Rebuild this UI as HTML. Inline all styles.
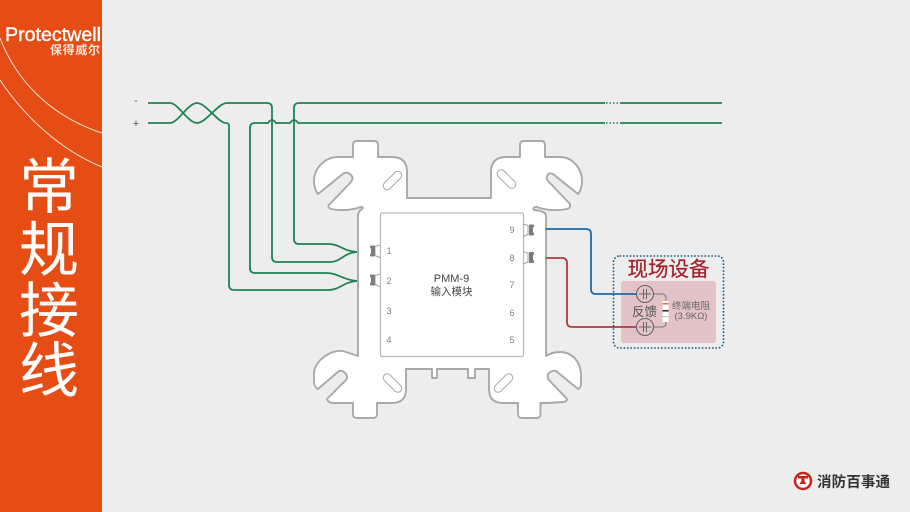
<!DOCTYPE html>
<html><head><meta charset="utf-8"><style>
html,body{margin:0;padding:0;background:#ededee}
svg{display:block}
text{font-family:"Liberation Sans","Noto Sans CJK SC",sans-serif}
</style></head><body>
<svg width="910" height="512" viewBox="0 0 910 512" xmlns="http://www.w3.org/2000/svg">
<rect width="910" height="512" fill="#ededee"/>
<rect width="102" height="512" fill="#e54d14"/>
<g fill="none" stroke="#f6e3d8" stroke-width="1">
<path d="M0 38C16 80 50 116 102 133"/>
<path d="M0 80C24 116 60 150 102 167"/>
</g>
<text x="5" y="41" font-size="19" fill="#fff" stroke="#fff" stroke-width=".4" textLength="96" lengthAdjust="spacingAndGlyphs">Protectwell</text>
<text x="50" y="54" font-size="12" font-weight="bold" fill="#f8e6dc" textLength="50">保得威尔</text>
<g font-size="60" fill="#fff" text-anchor="middle">
<text x="49" y="208">常</text>
<text x="49" y="271">规</text>
<text x="49" y="332">接</text>
<text x="49" y="392">线</text>
</g>

<!-- mounting plate -->
<path d="M353 157V145Q353 141 357 141H374Q378 141 378 145V157H392Q407 157 407 172V198H491V172Q491 157 506 157H520V145Q520 141 524 141H541Q545 141 545 145V157H560C572 157 582 168 582 181Q582 189 578 194L553 174Q549 172 547 176Q546 179 549 182L570 204Q571 208 567 209Q550 212 537 207Q532 207 534 210Q546 211 546 216V356Q552 352 560 352C572 352 581 362 581 375V383Q581 388 578 389L556 371Q551 370 548 374Q547 378 549 380L567 399Q567 402 562 402Q552 403 540.500 403V414Q540.500 418 536.500 418H522Q518 418 518 414V403H503Q489 403 489 389V369H475V378H468V369H437V378H432V369H406V389Q406 403 392 403H377V414Q377 418 373 418H357Q353 418 353 414V403H334Q328 403 327 399L346 380Q348 377 346 374Q343 370 339 371L318 389Q315 388 314 383V373C314 362 330 349 343 351L358 356V216Q358 211 362 209Q364 207 361 207Q346 212 331 209Q327 207 329 205L351 182Q354 178 351 175Q348 172 344 173L318 194Q314 189 314 181C314 168 325 157 338 157Z" fill="#fff" stroke="#a9a9a9" stroke-width="1.900" stroke-linejoin="round"/>
<rect x="380.500" y="213" width="143" height="143.500" rx="1.500" fill="#fff" stroke="#b9b9b9" stroke-width="1.200"/>
<g fill="#fff" stroke="#a9a9a9" stroke-width="1">
<rect x="381" y="176.500" width="23" height="8" rx="4" transform="rotate(-45 392.500 180.500)"/>
<rect x="495" y="175" width="23" height="8" rx="4" transform="rotate(45 506.500 179)"/>
<rect x="381" y="379" width="23" height="8" rx="4" transform="rotate(45 392.500 383)"/>
<rect x="492" y="379" width="23" height="8" rx="4" transform="rotate(-45 503.500 383)"/>
</g>
<!-- terminals -->
<g fill="none" stroke="#a0a0a0" stroke-width="1">
<path d="M380 245L375 246.500V255.500L380 257.500"/>
<path d="M380 274L375 275.500V284.500L380 286.500"/>
<path d="M523 224L528 225.500V234.500L523 236.500"/>
<path d="M523 251.500L528 253V262L523 264"/>
</g>
<g fill="#7c7c7c">
<rect x="370" y="245.500" width="5" height="3" rx="1"/><rect x="371" y="248" width="4" height="6"/><rect x="370" y="253.500" width="5" height="3" rx="1"/>
<rect x="370" y="274.500" width="5" height="3" rx="1"/><rect x="371" y="277" width="4" height="6"/><rect x="370" y="282.500" width="5" height="3" rx="1"/>
<rect x="529" y="224.500" width="5" height="3" rx="1"/><rect x="529" y="227" width="4" height="6"/><rect x="529" y="232.500" width="5" height="3" rx="1"/>
<rect x="529" y="252" width="5" height="3" rx="1"/><rect x="529" y="254.500" width="4" height="6"/><rect x="529" y="260" width="5" height="3" rx="1"/>
</g>
<g font-size="9" fill="#808080" text-anchor="middle">
<text x="389" y="254">1</text><text x="389" y="284">2</text><text x="389" y="314">3</text><text x="389" y="343">4</text>
<text x="512" y="233">9</text><text x="512" y="261">8</text><text x="512" y="288">7</text><text x="512" y="316">6</text><text x="512" y="343">5</text>
</g>
<text x="451.500" y="282" font-size="11" fill="#444" text-anchor="middle">PMM-9</text>
<text x="451.500" y="295" font-size="10.500" fill="#444" text-anchor="middle">输入模块</text>

<!-- green wires -->
<g fill="none" stroke="#1f8355" stroke-width="1.800">
<path d="M148 103H170C178 103 188 123 197 123S218 103 227 103H267Q272 103 272 108V257Q272 262 277 262H330C341 262 343 253 357 252"/>
<path d="M148 123H170C178 123 188 103 197 103S218 123 226 123Q229 123 229 126V285Q229 290 234 290H328C340 290 343 282 357 281"/>
<path d="M294 108Q294 103 299 103H605M620 103H722"/>
<path d="M294 108V239Q294 244 299 244H328C340 244 343 251 357 252"/>
<path d="M250 270V128Q250 123 255 123H268Q272 117 276 123H290Q294 117 298 123H605M620 123H722"/>
<path d="M250 268Q250 273 255 273H326C338 273 343 280 357 281"/>
<path d="M606 103H620M606 123H620" stroke-dasharray="1.500 2" stroke-width="1.500"/>
</g>
<text x="136" y="104" font-size="11" fill="#555" text-anchor="middle">-</text>
<text x="136" y="127" font-size="11" fill="#555" text-anchor="middle">+</text>

<!-- field device -->
<rect x="613.500" y="256" width="110" height="92" rx="6" fill="none" stroke="#1d5a86" stroke-width="1.600" stroke-dasharray="1.600 1.800"/>
<rect x="621" y="281" width="95" height="62" rx="3" fill="#e3c3c8"/>
<text x="668.500" y="276" font-size="20.500" fill="#a5232b" stroke="#a5232b" stroke-width=".25" text-anchor="middle">现场设备</text>
<path d="M546 229H586Q591 229 591 234V289Q591 294 596 294H636" fill="none" stroke="#1f6aa5" stroke-width="1.800"/>
<path d="M546 258H562Q567 258 567 263V322Q567 327 572 327H636" fill="none" stroke="#b03a40" stroke-width="1.800"/>
<path d="M653 294H662Q666 294 666 298V323Q666 327 662 327H653" fill="none" stroke="#777" stroke-width="1"/>
<g fill="#e3c3c8" stroke="#666" stroke-width="1.100">
<circle cx="645" cy="294" r="8.500"/><circle cx="645" cy="327" r="8.500"/>
</g>
<g fill="none" stroke="#666" stroke-width="1">
<path d="M639 294H651M643.500 289V299M646.500 289V299"/>
<path d="M639 327H651M643.500 322V332M646.500 322V332"/>
</g>
<rect x="662.500" y="301" width="6" height="21" fill="#fff"/>
<rect x="662.500" y="303" width="6" height="1.500" fill="#e8732a"/>
<rect x="662.500" y="310" width="6" height="1.500" fill="#222"/>
<rect x="662.500" y="316" width="6" height="1" fill="#bbb"/>
<text x="644.500" y="316" font-size="12.500" fill="#555" text-anchor="middle">反馈</text>
<text x="691" y="309" font-size="9.500" fill="#666" text-anchor="middle">终端电阻</text>
<text x="691" y="319" font-size="9.500" fill="#666" text-anchor="middle">(3.9KΩ)</text>

<!-- bottom logo -->
<circle cx="803" cy="481" r="8" fill="#fff" stroke="#c9231c" stroke-width="2.500"/>
<path d="M798 476h10v2.500h-3.500v2.500l2 3h-7l2-3v-2.500h-3.500z" fill="#c9231c"/>
<text x="817" y="487" font-size="14.500" font-weight="bold" fill="#333" textLength="73">消防百事通</text>
</svg>
</body></html>
